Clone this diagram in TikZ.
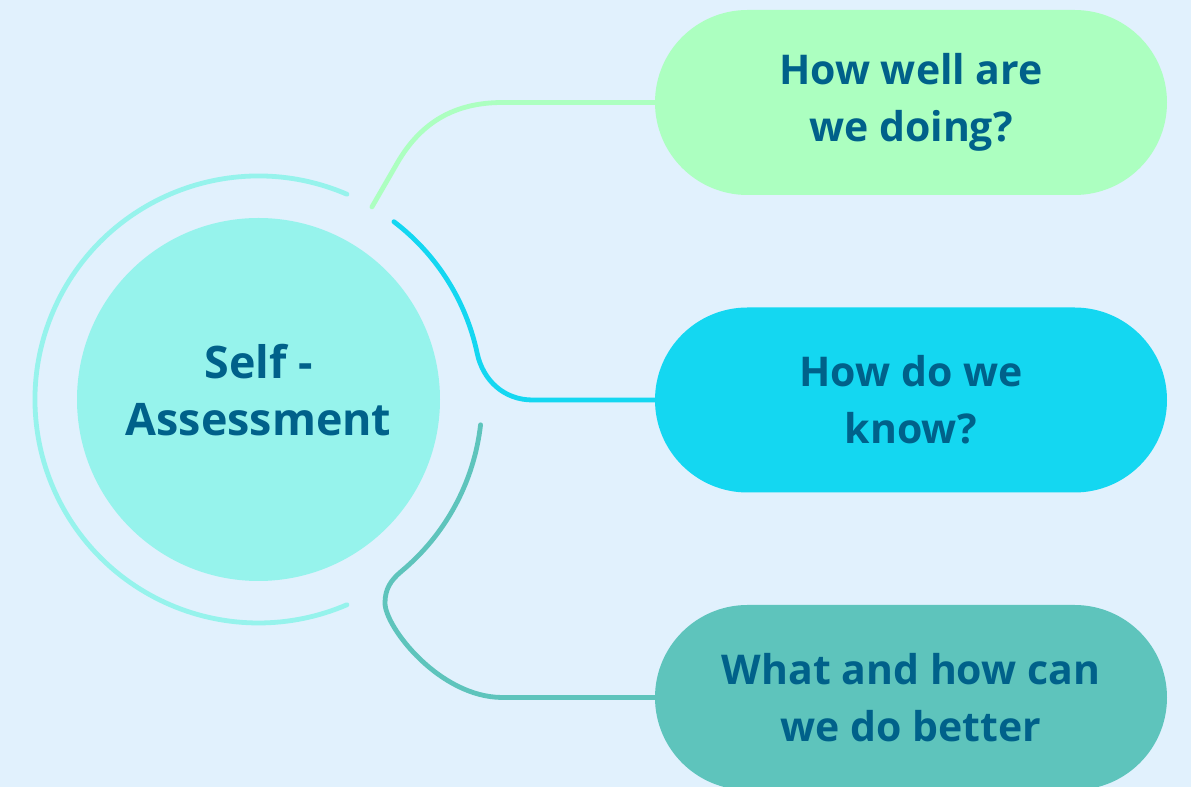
\documentclass[tikz,border=0pt]{standalone}
\usepackage{fontspec}
\setmainfont{Open Sans}
\usetikzlibrary{shapes.misc,calc}
\usepackage{xcolor}
\definecolor{bgblue}{HTML}{E1F1FD}
\definecolor{aqua}{HTML}{96F3EC}
\definecolor{mint}{HTML}{ACFFC0}
\definecolor{sky}{HTML}{14D7F1}
\definecolor{seagreen}{HTML}{5EC4BC}
\definecolor{ink}{HTML}{00618A}

\begin{document}
\begin{tikzpicture}
    \tikzset{
        x=0.5pt,y=0.5pt,
        pill/.style={rounded rectangle,minimum width=256pt,minimum height=92.5pt,
            inner sep=0pt,align=center,text=ink,
            font=\fontsize{20.5}{28.5}\selectfont\bfseries},
        hub/.style={circle,fill=aqua,minimum size=181.5pt,inner sep=0pt,
            align=center,text=ink,text depth=10pt,
            font=\fontsize{22.4}{28.5}\selectfont\bfseries},
        link/.style={line width=2.4pt,line cap=round}
    }
    % background
    \fill[bgblue] (0,0) rectangle (1191,787);
    \clip (0,0) rectangle (1191,787);
    \coordinate (c) at (258.5,387.5);
    % ring
    \draw[link,aqua] ($(c)+(66.7:223.5)$)
        arc[start angle=66.7,end angle=293.3,radius=111.75pt];
    % hub
    \node[hub] (self) at (c) {Self -\\Assessment};
    % questions
    \node[pill,fill=mint] (q1) at (911,684.5) {How well are\\we doing?};
    \node[pill,fill=sky] (q2) at (911,387) {How do we\\know?};
    \node[pill,fill=seagreen] (q3) at (911,89.5) {What and how can\\we do better};
    % links
    \draw[link,mint] ($(c)+(59.5:223.5)$) -- ++(60:50.6)
        to[out=60,in=180] ([xshift=-76pt]q1.west) -- (q1.west);
    \draw[link,sky] ($(c)+(52.7:223.5)$)
        arc[start angle=52.7,end angle=12,radius=111.75pt]
        to[out=-78,in=180] ([xshift=-61pt]q2.west) -- (q2.west);
    \draw[link,seagreen] ($(c)+(-6.5:223.5)$)
        arc[start angle=-6.5,end angle=-50.3,radius=111.75pt]
        to[out=-140,in=90] (385,184)
        .. controls +(-90:24) and +(180:63) .. ([xshift=-76pt]q3.west)
        -- (q3.west);
\end{tikzpicture}
\end{document}
